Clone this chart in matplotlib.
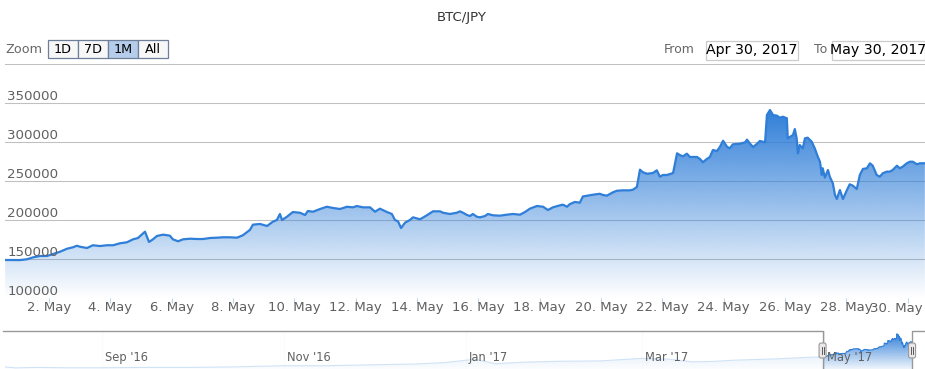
import numpy as np
import matplotlib
matplotlib.use("Agg")
import matplotlib.pyplot as plt
from matplotlib.patches import Rectangle, FancyBboxPatch
import matplotlib.colors as mcolors

plt.rcParams['font.family'] = ['DejaVu Sans']

# ---------------- data ----------------
title = "BTC/JPY"
# main series: days since 2017-04-30 00:00, price in JPY
days = [0.57, 1.05, 1.28, 1.48, 1.71, 1.93, 2.13, 2.36, 2.59, 2.78, 2.91, 3.01, 3.24, 3.43,
        3.66, 3.89, 4.09, 4.31, 4.54, 4.74, 4.90, 5.13, 5.26, 5.39, 5.52, 5.72, 5.94, 6.04,
        6.21, 6.37, 6.60, 6.83, 7.02, 7.25, 7.48, 7.67, 7.90, 8.13, 8.32, 8.55, 8.65, 8.88,
        9.11, 9.30, 9.43, 9.53, 9.60, 9.76, 9.95, 10.18, 10.35, 10.44, 10.61, 10.84, 11.06,
        11.26, 11.49, 11.72, 11.91, 12.04, 12.24, 12.47, 12.63, 12.79, 13.02, 13.18, 13.28,
        13.38, 13.48, 13.61, 13.77, 13.87, 14.10, 14.32, 14.52, 14.75, 14.85, 15.07, 15.30,
        15.40, 15.50, 15.63, 15.73, 15.82, 15.95, 16.05, 16.22, 16.31, 16.48, 16.70, 16.93,
        17.13, 17.36, 17.52, 17.68, 17.91, 18.11, 18.27, 18.43, 18.66, 18.76, 18.89, 18.99,
        19.15, 19.31, 19.41, 19.54, 19.74, 19.96, 20.06, 20.19, 20.29, 20.39, 20.52, 20.71,
        20.94, 21.04, 21.17, 21.27, 21.37, 21.50, 21.69, 21.82, 21.92, 22.02, 22.15, 22.35,
        22.48, 22.57, 22.67, 22.80, 22.90, 23.13, 23.23, 23.32, 23.45, 23.55, 23.65, 23.78,
        23.88, 23.98, 24.11, 24.20, 24.30, 24.53, 24.70, 24.76, 24.86, 24.96, 25.09, 25.18,
        25.35, 25.41, 25.51, 25.61, 25.74, 25.83, 25.93, 26.06, 26.09, 26.26, 26.32, 26.38,
        26.42, 26.48, 26.58, 26.65, 26.74, 26.87, 26.97, 27.07, 27.14, 27.20, 27.23, 27.30,
        27.40, 27.46, 27.56, 27.63, 27.69, 27.79, 27.89, 28.02, 28.11, 28.21, 28.34, 28.44,
        28.54, 28.67, 28.77, 28.86, 28.99, 29.09, 29.19, 29.32, 29.42, 29.51, 29.65, 29.74,
        29.84, 29.97, 30.07, 30.17, 30.30, 30.40, 30.56]
prices = [149100, 149000, 150000, 152500, 154200, 154200, 156800, 159700, 163600, 165400,
          167400, 166100, 164500, 168000, 167000, 168000, 168000, 170500, 171800, 175600,
          177300, 185400, 172200, 175600, 179900, 181600, 180300, 175600, 173100, 175600,
          176400, 176000, 176000, 177300, 177700, 178200, 178200, 177700, 180800, 187600,
          194400, 195300, 192700, 198200, 200400, 208100, 200400, 204600, 210600, 209700,
          206800, 211900, 211000, 214500, 217400, 215800, 214500, 217400, 216600, 218300,
          216600, 216600, 211000, 214900, 210600, 208100, 200400, 198700, 190100, 197000,
          200400, 203800, 201300, 206400, 211500, 211500, 209700, 208100, 209700, 211500,
          209700, 206800, 205500, 208100, 204600, 203800, 205500, 208100, 206400, 205900,
          207200, 208100, 207200, 210600, 214900, 218300, 217400, 213200, 216600, 219200,
          220000, 217400, 220900, 223500, 222600, 230600, 231500, 232800, 234000, 232500,
          231600, 233700, 235900, 237900, 238400, 238400, 239200, 242700, 264900, 261500,
          259700, 260600, 264100, 255900, 258100, 258100, 260600, 285900, 283700, 282000,
          285400, 281200, 281200, 278600, 274400, 278600, 281200, 290100, 288800, 294300,
          302000, 294300, 292300, 297400, 298200, 300000, 303400, 298200, 294000, 298200,
          301700, 300000, 335000, 341400, 335000, 334100, 331500, 332800, 330800, 305100,
          309400, 317000, 305100, 285900, 296500, 292300, 305100, 305900, 300800, 292300,
          281500, 275100, 258100, 266700, 254700, 264500, 255900, 247400, 232400, 227300,
          238800, 227300, 238800, 246200, 244400, 240100, 258100, 265800, 266700, 273100,
          270000, 258100, 255900, 260300, 262400, 262400, 264500, 270000, 266700, 268800,
          273100, 275100, 275100, 271800, 273100, 273100]

x_ticks = [2, 4, 6, 8, 10, 12, 14, 16, 18, 20, 22, 24, 26, 28, 30]
x_tick_labels = ["2. May", "4. May", "6. May", "8. May", "10. May", "12. May", "14. May",
                 "16. May", "18. May", "20. May", "22. May", "24. May", "26. May", "28. May",
                 "30. May"]
y_ticks = [100000, 150000, 200000, 250000, 300000, 350000, 400000]

# navigator history (days relative to 2017-04-30) and price
nav_days = [-274, -270, -263, -253, -241, -227, -211, -197, -180, -166, -150, -136, -126,
            -116, -109, -100, -88, -74, -60, -51, -43, -36, -29, -15, -5, 0]
nav_prices = [68000, 58000, 62000, 59000, 59000, 62000, 62000, 66000, 76000, 76000, 84000,
              90000, 102000, 130000, 92000, 105000, 113000, 116000, 137000, 130000, 108000,
              112000, 122000, 133000, 145000, 149000]
nav_ticks = [-241, -180, -119, -60, 1]
nav_tick_labels = ["Sep '16", "Nov '16", "Jan '17", "Mar '17", "May '17"]

zoom_buttons = ["1D", "7D", "1M", "All"]
selected_button = "1M"
range_from = "Apr 30, 2017"
range_to = "May 30, 2017"

# ---------------- style ----------------
W, H = 925, 369
SERIES = "#2f7ed8"
GRID = "#C0C0C0"
LABEL = "#606060"

fig = plt.figure(figsize=(W / 100, H / 100), dpi=100)
fig.patch.set_facecolor("white")


def fx(px):
    return px / W


def fy(py):
    return 1 - py / H


def gradient_fill(ax, x, y, base, top, alpha_top=1.0):
    poly = ax.fill_between(x, y, base, facecolor="none", edgecolor="none")
    rgb = mcolors.to_rgb(SERIES)
    n = 256
    img = np.zeros((n, 2, 4))
    img[..., 0], img[..., 1], img[..., 2] = rgb
    img[..., 3] = np.linspace(alpha_top, 0.0, n)[:, None]
    im = ax.imshow(img, extent=[min(x), max(x), base, top], origin="upper",
                   aspect="auto", zorder=1, interpolation="bilinear")
    im.set_clip_path(poly.get_paths()[0], transform=ax.transData)
    return im


# ---------------- main axes ----------------
pl, pr, pt, pb = 5, 925, 64.3, 298.3
ax = fig.add_axes([fx(pl), fy(pb), fx(pr - pl), (pb - pt) / H])
x_min, x_max = 0.565, 30.565
ax.set_xlim(x_min, x_max)
ax.set_ylim(100000, 400000)
for s in ax.spines.values():
    s.set_visible(False)
ax.set_facecolor("none")

for yv in y_ticks:
    ax.axhline(yv, color=GRID, lw=0.75, zorder=0.5)

gradient_fill(ax, days, prices, 100000, max(prices))
ax.plot(days, prices, color=SERIES, lw=1.6, zorder=3, solid_joinstyle="round")

ax.set_yticks([])
ax.set_xticks(x_ticks)
# last label is justified inside the plot edge (drawn below)
ax.set_xticklabels(x_tick_labels[:-1] + [""])
ax.tick_params(axis="x", length=3.6, width=0.75, color="#C0D0E0", pad=-1.5,
               labelsize=9.5, labelcolor=LABEL)
ax.annotate(x_tick_labels[-1], xy=(1, 0), xycoords="axes fraction", xytext=(-2, -14),
            textcoords="offset pixels", ha="right", va="baseline", fontsize=9.5,
            color=LABEL, annotation_clip=False)

for yv in y_ticks[:-1]:
    ax.annotate(f"{yv}", xy=(0, yv), xycoords=("axes fraction", "data"),
                xytext=(2.5, 3), textcoords="offset pixels", ha="left", va="baseline",
                fontsize=9.6, color=LABEL, zorder=5)

# ---------------- navigator ----------------
nt, nb = 331, 372
nav = fig.add_axes([fx(pl), fy(nb), fx(pr - pl), (nb - nt) / H])
nav_x = nav_days + days
nav_y = nav_prices + prices
nav.set_xlim(-273.5, 34.9)
ylo, yhi = min(nav_y), max(nav_y)
span = yhi - ylo
nav.set_ylim(ylo - 0.12 * span, yhi + 0.08 * span)
for s in nav.spines.values():
    s.set_visible(False)
nav.set_facecolor("none")
nav.set_yticks([])
nav.set_xticks(nav_ticks)
nav.set_xticklabels([])
nav.tick_params(axis="x", length=0)
for t in nav_ticks:
    nav.axvline(t, color="#EEEEEE", lw=0.75, zorder=0)
for t, lab in zip(nav_ticks, nav_tick_labels):
    nav.annotate(lab, xy=(t, 0), xycoords=("data", "axes fraction"), xytext=(3, 11),
                 textcoords="offset pixels", ha="left", va="baseline", fontsize=9.2,
                 color=LABEL, zorder=6, fontstretch="condensed")
gradient_fill(nav, nav_x, nav_y, nav.get_ylim()[0], yhi)
nav.plot(nav_x, nav_y, color=SERIES, lw=0.8, zorder=3)
# masks outside the selection
nav.axvspan(-273.5, x_min, color="white", alpha=0.78, zorder=4, lw=0)
nav.axvspan(x_max, 34.9, color="white", alpha=0.78, zorder=4, lw=0)

# ---------------- overlay for UI ----------------
ui = fig.add_axes([0, 0, 1, 1])
ui.set_xlim(0, W)
ui.set_ylim(H, 0)
ui.axis("off")
ui.set_zorder(10)
ui.patch.set_alpha(0)

ui.text(462, 17, title, ha="center", va="center", fontsize=9.5, color="#333333")

# navigator outline
hl = 5 + (x_min + 273.5) * (920 / 308.4)
hr = 5 + (x_max + 273.5) * (920 / 308.4)
ui.plot([3, hl, hl], [331, 331, 372], color="#999999", lw=1)
ui.plot([hr, hr, 925], [372, 331, 331], color="#999999", lw=1)
for hx in (hl, hr):
    ui.add_patch(FancyBboxPatch((hx - 3.5, 343), 7, 15, boxstyle="round,pad=0,rounding_size=2",
                                facecolor="#ebe7e8", edgecolor="#999999", lw=0.8, zorder=20))
    ui.plot([hx - 1, hx - 1], [347, 354], color="#444444", lw=0.6, zorder=21)
    ui.plot([hx + 1, hx + 1], [347, 354], color="#444444", lw=0.6, zorder=21)

# range selector
ui.text(5, 49.5, "Zoom", ha="left", va="center", fontsize=9.2, color="#666666")
bx = [48, 78, 108, 138, 168]
for i, lab in enumerate(zoom_buttons):
    sel = lab == selected_button
    ui.add_patch(Rectangle((bx[i], 40), bx[i + 1] - bx[i], 18,
                           facecolor="#b5cdea" if sel else "#f7f7f7",
                           edgecolor="#6d7f99", lw=0.9))
    ui.text((bx[i] + bx[i + 1]) / 2, 49.5, lab, ha="center", va="center",
            fontsize=9.2, color="black")

ui.text(695, 49.5, "From", ha="right", va="center", fontsize=9, color="#666666")
ui.add_patch(Rectangle((706, 40.5), 92, 19, facecolor="white", edgecolor="#cccccc", lw=0.9))
ui.text(752, 50, range_from, ha="center", va="center", fontsize=10.2, color="black")
ui.text(827, 49.5, "To", ha="right", va="center", fontsize=9, color="#666666")
ui.add_patch(Rectangle((832, 40.5), 93, 19, facecolor="white", edgecolor="#cccccc", lw=0.9))
ui.text(878.5, 50, range_to, ha="center", va="center", fontsize=10.2, color="black")

fig.savefig("out.png", dpi=100, facecolor="white")
